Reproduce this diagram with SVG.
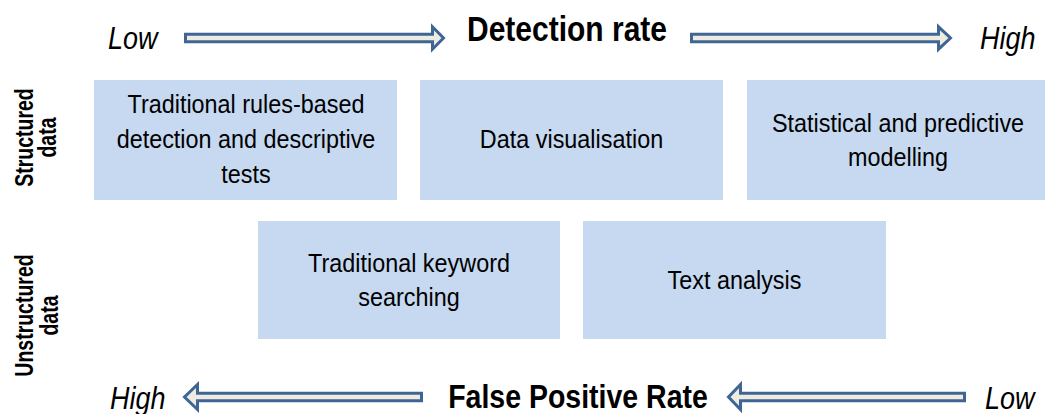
<svg xmlns="http://www.w3.org/2000/svg" width="1045" height="414" viewBox="0 0 1045 414">
<style>
.box{fill:#c6d9f1;}
.t{font-family:"Liberation Sans",Arial,sans-serif;font-size:23.4px;fill:#000;text-anchor:middle;}
.h{font-family:"Liberation Sans",Arial,sans-serif;font-weight:bold;fill:#000;text-anchor:middle;}
.it{font-family:"Liberation Sans",Arial,sans-serif;font-style:italic;font-size:27px;fill:#000;}
.side{font-family:"Liberation Sans",Arial,sans-serif;font-weight:bold;font-size:19.5px;fill:#000;text-anchor:middle;}
.arr{fill:#eeece1;stroke:#3f6595;stroke-width:3;stroke-linejoin:miter;}
</style>
<rect width="1045" height="414" fill="#fff"/>
<g id="axis-top">
<text class="it" transform="translate(108,49) scale(1,1.18)">Low</text>
<text class="h" font-size="30" transform="translate(567,41) scale(1,1.15)">Detection rate</text>
<text class="it" transform="translate(980,49) scale(1,1.18)">High</text>
</g>
<g id="axis-bottom">
<text class="it" transform="translate(110,409) scale(1,1.18)">High</text>
<text class="h" font-size="28.5" transform="translate(578,407.5) scale(1,1.15)">False Positive Rate</text>
<text class="it" transform="translate(985,409) scale(1,1.18)">Low</text>
</g>
<g id="row-labels">
<text class="side" transform="translate(33,137.5) rotate(-90) scale(1,1.28)">Structured</text>
<text class="side" transform="translate(56,137.5) rotate(-90) scale(1,1.28)">data</text>
<text class="side" transform="translate(33,315.5) rotate(-90) scale(1,1.28)">Unstructured</text>
<text class="side" transform="translate(58,315.5) rotate(-90) scale(1,1.28)">data</text>
</g>
<g id="node-rules">
<rect class="box" x="94" y="80" width="303" height="120"/>
<text class="t" transform="translate(246,112.5) scale(1,1.12)">Traditional rules-based</text>
<text class="t" transform="translate(246,148) scale(1,1.12)">detection and descriptive</text>
<text class="t" transform="translate(246,183) scale(1,1.12)">tests</text>
</g>
<g id="node-visualisation">
<rect class="box" x="420" y="80" width="303" height="120"/>
<text class="t" transform="translate(571.5,148) scale(1,1.12)">Data visualisation</text>
</g>
<g id="node-statistical">
<rect class="box" x="747" y="80" width="303" height="120"/>
<text class="t" transform="translate(898,132) scale(1,1.12)">Statistical and predictive</text>
<text class="t" transform="translate(898,166) scale(1,1.12)">modelling</text>
</g>
<g id="node-keyword">
<rect class="box" x="258" y="221" width="302" height="118"/>
<text class="t" transform="translate(409,272) scale(1,1.12)">Traditional keyword</text>
<text class="t" transform="translate(409,306) scale(1,1.12)">searching</text>
</g>
<g id="node-text">
<rect class="box" x="583" y="221" width="303" height="118"/>
<text class="t" transform="translate(734.5,289) scale(1,1.12)">Text analysis</text>
</g>
<g id="connectors">
<polygon class="arr" points="185.5,34.3 432.5,34.3 432.5,26.8 443.5,38 432.5,49.2 432.5,41.7 185.5,41.7"/>
<polygon class="arr" points="691.5,34.3 938.5,34.3 938.5,26.8 950.5,38 938.5,49.2 938.5,41.7 691.5,41.7"/>
<polygon class="arr" points="421.5,393.3 197.5,393.3 197.5,384.5 184.5,397 197.5,409.5 197.5,400.7 421.5,400.7"/>
<polygon class="arr" points="964.5,393.3 740.5,393.3 740.5,384.5 728.5,397 740.5,409.5 740.5,400.7 964.5,400.7"/>
</g>
</svg>
